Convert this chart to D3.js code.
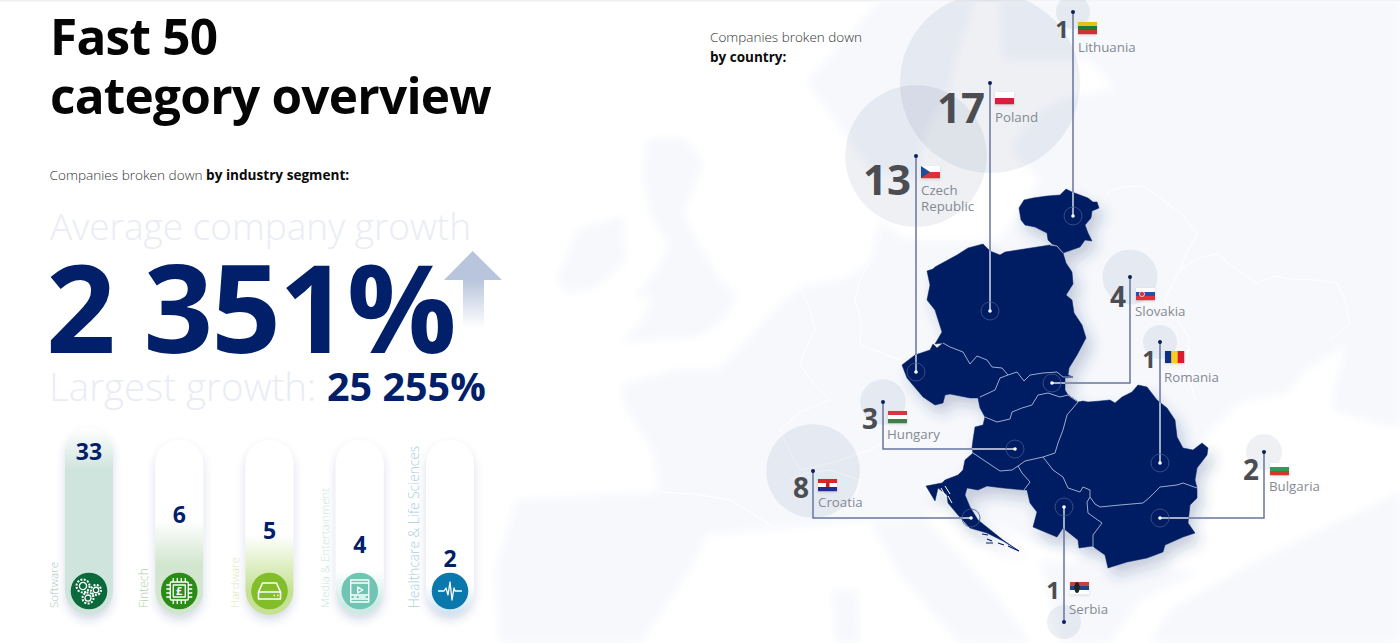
<!DOCTYPE html>
<html>
<head>
    <meta charset="UTF-8">
    <title>Fast 50 category overview</title>
    <style>
        html, body { margin: 0; padding: 0; background: #fff; overflow: hidden; }
        text { font-family: "Open Sans", sans-serif; }
        .light { font-weight: 300; }
        .bold { font-weight: 700; }
        .pale { fill: #e9ecf4; font-weight: 300; }
        .navy { fill: #02206a; font-weight: 700; }
        .pin-count { fill: #4b4d53; font-weight: 700; text-anchor: end; }
        .pin-name { fill: #858a92; font-size: 13.3px; font-weight: 400; }
        .border { fill: none; stroke: #aab6d4; stroke-width: .9; }
        .leader { fill: none; stroke: #67759d; stroke-width: 1.5; }
        .icon { fill: none; stroke: #fff; stroke-width: 1.3; stroke-linejoin: round; }
    </style>
    <script src="https://d3js.org/d3.v7.min.js"></script>
</head>
<body>
<div id="chart"></div>
<script>
    // industry segments
    const segments = ["Software", "Fintech", "Hardware", "Media & Entertainment", "Healthcare & Life Sciences"];
    const segmentCounts = [33, 6, 5, 4, 2];
    const segmentColors = ["#0b6a3c", "#2a8c16", "#82bd2a", "#6fc5b2", "#0a78ac"];
    const segmentTints = ["#cfe4dc", "#d2e6cf", "#c6e196", "#cdeae5", "#d3e5f3"];
    const segmentLabelColors = ["#a9c4b8", "#b5d2ad", "#dbe9ba", "#c6e6df", "#a9cfe0"];
    const segmentLabelSizes = [11.7, 12.2, 11.5, 11.5, 13.7];

    // countries
    const countries = ["Lithuania", "Poland", "Czech Republic", "Slovakia", "Romania", "Hungary", "Croatia", "Serbia", "Bulgaria"];
    const countryCounts = [1, 17, 13, 4, 1, 3, 8, 1, 2];

    const headline = ["Fast 50", "category overview"];
    const averageGrowth = "2 351%";
    const largestGrowth = "25 255%";

    const polandCzech = [[943,343],[950,347],[963,352],[970,364],[977,356],[987,360],[992,367],[1002,368],[1008,375]];
    const polandSlovakia = [[1008,375],[1017,372],[1024,381],[1030,375],[1043,373],[1057,372],[1063,377],[1073,377]];
    const czechSlovakia = [[1008,375],[1000,378],[995,390],[980,397]];
    const slovakiaHungary = [[985,417],[997,422],[1010,419],[1012,412],[1022,408],[1032,405],[1038,395],[1048,393],[1060,397],[1068,395]];
    const hungaryRomania = [[1068,395],[1078,402],[1067,415],[1063,430],[1058,443],[1055,453],[1043,457]];
    const hungaryCroatia = [[973,453],[988,463],[1000,471],[1012,470],[1018,466]];
    const hungarySerbia = [[1018,466],[1025,461],[1043,457]];
    const croatiaSerbia = [[1018,466],[1022,473],[1030,482],[1024,490]];
    const serbiaRomania = [[1043,457],[1053,470],[1063,477],[1068,488],[1080,492],[1083,487],[1090,490],[1090,497]];
    const romaniaBulgaria = [[1090,497],[1095,504],[1100,507],[1120,505],[1143,503],[1150,497],[1160,487],[1177,485],[1183,483],[1197,488]];
    const serbiaBulgaria = [[1090,497],[1087,502],[1088,513],[1102,523],[1093,535],[1093,546]];
    const polandLithuania = [[1050,245],[1057,246],[1063,253]];

    const rev = a => a.slice().reverse();

    const countryShapes = {
        "Lithuania": [[1019,208],[1024,200],[1033,198],[1047,196],[1060,195],[1066,189],[1072,192],[1080,195],[1088,198],[1093,202],[1097,202],[1099,208],[1092,211],[1091,218],[1085,225],[1088,233],[1092,241],[1085,240],[1080,247],[1063,253],[1057,246],[1052,244],[1048,240],[1047,233],[1035,227],[1025,225],[1021,220]],
        "Poland": [...polandCzech, ...polandSlovakia, [1068,375],[1069,368],[1077,355],[1086,338],[1082,325],[1074,313],[1072,300],[1066,295],[1073,284],[1072,272],[1066,263],[1063,253],[1057,246],[1050,245],[1005,252],[1000,255],[990,251],[983,244],[968,248],[957,255],[935,267],[933,269],[927,271],[930,285],[927,300],[935,310],[942,332],[935,344]],
        "Czech Republic": [...polandCzech, ...czechSlovakia, [978,398],[970,398],[950,394],[945,395],[943,403],[935,405],[923,397],[907,378],[902,365],[915,355],[930,350],[933,344],[937,348]],
        "Slovakia": [...rev(czechSlovakia), ...polandSlovakia, [1065,378],[1065,390], ...rev(slovakiaHungary), [980,408],[978,398]],
        "Hungary": [...slovakiaHungary, ...hungaryRomania, ...rev(hungarySerbia), ...rev(hungaryCroatia), [972,448],[973,440],[975,427],[983,425]],
        "Croatia": [...hungaryCroatia, ...croatiaSerbia, [1003,488],[987,486],[978,490],[967,488],[965,495],[970,507],[978,520],[1003,540],[1019,551],[1003,541],[987,533],[970,528],[958,515],[948,503],[947,495],[938,488],[935,501],[926,486],[942,483],[945,480],[958,475],[963,470],[965,460]],
        "Serbia": [...hungarySerbia, ...serbiaRomania, ...serbiaBulgaria, [1079,548],[1078,540],[1063,528],[1057,537],[1033,527],[1037,512],[1030,503],[1027,490], ...rev(croatiaSerbia)],
        "Romania": [...hungaryRomania.slice().reverse().reverse(), [1083,401],[1088,402],[1100,401],[1110,400],[1115,403],[1122,397],[1132,392],[1138,385],[1147,387],[1157,400],[1167,408],[1175,420],[1177,437],[1183,448],[1193,450],[1202,443],[1208,448],[1207,455],[1197,468],[1195,480],[1197,488], ...rev(romaniaBulgaria), ...rev(serbiaRomania)],
        "Bulgaria": [...romaniaBulgaria, [1197,498],[1190,505],[1188,523],[1195,533],[1183,537],[1165,545],[1163,552],[1147,558],[1127,562],[1108,568],[1105,555],[1095,548], ...rev(serbiaBulgaria)]
    };
    // Romania runs along Hungary from the north, so that edge goes in reverse order
    countryShapes["Romania"] = [[1068,395],[1078,402],[1083,401],[1088,402],[1100,401],[1110,400],[1115,403],[1122,397],[1132,392],[1138,385],[1147,387],[1157,400],[1167,408],[1175,420],[1177,437],[1183,448],[1193,450],[1202,443],[1208,448],[1207,455],[1197,468],[1195,480],[1197,488], ...rev(romaniaBulgaria), ...rev(serbiaRomania), ...rev(hungaryRomania)];

    const croatiaIslets = [[[982,534],[988,535]],[[987,539],[992,541]],[[986,543],[993,543]],[[998,543],[1004,545]],[[1008,546],[1019,551]]];
    const croatiaGaps = [[[941,488],[946,497]],[[945,486],[950,494]],[[948,496],[952,503]]];

    // faint map of Europe behind everything
    const landShapes = [
        [[557,279],[577,230],[623,217],[625,262],[597,287],[567,293]],
        [[647,139],[687,139],[703,164],[683,213],[700,246],[720,279],[737,295],[727,316],[700,336],[620,342],[643,320],[653,295],[633,299],[657,270],[670,246],[650,213],[643,176]],
        [[807,82],[880,0],[975,0],[955,60],[950,90],[925,130],[915,180],[870,170],[835,120]],
        [[620,385],[680,369],[720,369],[747,340],[773,311],[800,287],[847,279],[870,262],[880,220],[905,240],[1000,240],[1040,180],[1010,150],[1030,120],[1060,100],[1115,88],[1090,60],[1003,60],[1000,0],[1400,0],[1400,426],[1387,426],[1333,410],[1333,393],[1347,344],[1307,369],[1287,393],[1240,402],[1207,434],[1190,500],[1190,535],[1120,575],[1100,560],[1030,540],[990,520],[950,500],[925,480],[930,520],[925,520],[870,520],[813,525],[773,529],[707,535],[690,570],[640,643],[500,643],[495,570],[517,500],[660,492],[653,451],[627,410]],
        [[870,522],[925,520],[945,540],[1000,600],[1030,643],[960,643],[900,575]],
        [[832,590],[858,590],[860,643],[836,643]],
        [[1040,560],[1200,572],[1140,600],[1110,643],[1060,643]],
        [[1170,610],[1240,570],[1300,540],[1400,492],[1400,643],[1150,643]]
    ];
    const landBorders = [
        [[1107,193],[1122,187],[1143,186],[1160,198],[1182,214],[1197,234],[1188,250],[1180,270],[1198,258],[1217,254],[1235,268],[1257,283],[1275,276],[1290,279],[1315,280],[1337,283],[1345,300],[1350,324],[1330,340]],
        [[1180,270],[1172,285],[1165,300],[1178,320],[1190,340],[1186,365],[1195,400]],
        [[800,287],[810,310],[815,330],[805,350],[800,365],[815,385],[830,400],[800,412],[780,430],[790,452],[800,470],[835,462],[870,450],[905,430]],
        [[870,262],[860,280],[855,300],[862,325],[860,345],[880,352],[900,360]],
        [[660,492],[695,494],[730,500],[755,515],[775,528]],
        [[790,480],[810,472],[830,470],[848,476],[860,480],[856,495],[850,510]]
    ];

    // pin layout: top dot, target on the map, elbow, text placement
    const pinAnchor = [[1073,12],[990,83],[916,156],[1130,277],[1160,342],[883,402],[813,471],[1064,622],[1264,452]];
    const pinTarget = [[1073,216],[990,311],[916,372],[1052,383],[1160,463],[1015,449],[971,518],[1064,507],[1160,518]];
    const countX = [1069,985,911,1126,1156,878,809,1060,1259];
    const countY = [38,123,195,307,368,429,498,599,480];
    const flagX = [1078,995,921,1136,1165,888,818,1070,1270];
    const flagY = [22,92,166,288,351,411,479,582,463];
    const nameX = [1078,995,921,1135,1164,887,818,1069,1269];
    const nameY = [52,122,195,316,382,439,507,614,491];

    // flag stripes, top to bottom (Romania left to right)
    const flagStripes = [
        ["#f2bb1e", "#1d7a3c", "#c9323a"],
        ["#ffffff", "#dc1e3c"],
        ["#ffffff", "#d9303a"],
        ["#ffffff", "#2a4fa8", "#e0303a"],
        ["#0d2f86", "#f7cf1a", "#d81e30"],
        ["#d2373c", "#ffffff", "#3f7d4a"],
        ["#e0232e", "#ffffff", "#23299a"],
        ["#c8423c", "#24408c", "#ffffff"],
        ["#ffffff", "#2f9a5c", "#d9362c"]
    ];

    const width = 1400, height = 643;
    const svg = d3.select("#chart").append("svg")
        .attr("width", width).attr("height", height)
        .style("display", "block");
    const defs = svg.append("defs");

    const shadow = defs.append("filter").attr("id", "mapShadow")
        .attr("x", "-20%").attr("y", "-20%").attr("width", "140%").attr("height", "140%");
    shadow.append("feDropShadow").attr("dx", 6).attr("dy", 9).attr("stdDeviation", 7)
        .attr("flood-color", "#233a78").attr("flood-opacity", .24);

    const pillShadow = defs.append("filter").attr("id", "pillShadow")
        .attr("x", "-40%").attr("y", "-20%").attr("width", "180%").attr("height", "140%");
    pillShadow.append("feDropShadow").attr("dx", 0).attr("dy", 5).attr("stdDeviation", 4)
        .attr("flood-color", "#34508f").attr("flood-opacity", .2);

    const flagShadow = defs.append("filter").attr("id", "flagShadow")
        .attr("x", "-20%").attr("y", "-30%").attr("width", "140%").attr("height", "170%");
    flagShadow.append("feDropShadow").attr("dx", 0).attr("dy", 1).attr("stdDeviation", 1.2)
        .attr("flood-color", "#333").attr("flood-opacity", .2);

    defs.append("filter").attr("id", "soft").attr("x", "-5%").attr("y", "-5%").attr("width", "110%").attr("height", "110%")
        .append("feGaussianBlur").attr("stdDeviation", 4);
    defs.append("filter").attr("id", "softLine")
        .append("feGaussianBlur").attr("stdDeviation", .5);

    // map projection: outlines were traced in screen units
    const path = d3.geoPath(d3.geoIdentity());
    const ring = pts => ({type: "Polygon", coordinates: [[...pts, pts[0]]]});
    const lineGeo = pts => ({type: "LineString", coordinates: pts});
    const multi = lines => ({type: "MultiLineString", coordinates: lines});

    // top hairline
    svg.append("rect").attr("width", width).attr("height", 1.5).attr("fill", "#eeeff2");

    // background map
    const bg = svg.append("g");
    bg.selectAll("path.land").data(landShapes).join("path")
        .attr("class", "land")
        .attr("d", d => path(ring(d)))
        .attr("fill", "#f6f8fc")
        .attr("filter", "url(#soft)");
    bg.append("path").attr("d", path(multi(landBorders)))
        .attr("fill", "none").attr("stroke", "#fff").attr("stroke-width", 1)
        .attr("filter", "url(#softLine)");

    // bubbles, size from company count
    const bubbleR = d3.scaleLinear().domain([1, 2, 17]).range([17, 18, 90]);
    svg.append("g").selectAll("circle").data(countries).join("circle")
        .attr("cx", (d, i) => pinAnchor[i][0])
        .attr("cy", (d, i) => pinAnchor[i][1])
        .attr("r", (d, i) => bubbleR(countryCounts[i]))
        .attr("fill", "#1c3266").attr("fill-opacity", .075);

    // country shapes
    const shapes = countries.map(c => countryShapes[c]);
    svg.append("g").attr("filter", "url(#mapShadow)")
        .selectAll("path").data(shapes).join("path")
        .attr("d", d => path(ring(d)))
        .attr("fill", "#011f63")
        .attr("stroke", "#011f63").attr("stroke-width", .5);
    svg.append("path").attr("d", path(multi(croatiaIslets)))
        .attr("fill", "none").attr("stroke", "#011f63").attr("stroke-width", 1.2);
    svg.append("path").attr("d", path(multi(croatiaGaps)))
        .attr("fill", "none").attr("stroke", "#fff").attr("stroke-width", 1);
    svg.append("path").attr("class", "border")
        .attr("d", path(multi([polandCzech, polandSlovakia, czechSlovakia, slovakiaHungary, hungaryRomania,
            hungaryCroatia, hungarySerbia, croatiaSerbia, serbiaRomania, romaniaBulgaria, serbiaBulgaria, polandLithuania])));

    // leader lines; lighter where they run over the map
    const clip = defs.append("clipPath").attr("id", "mapClip");
    clip.selectAll("path").data(shapes).join("path").attr("d", d => path(ring(d)));

    const leaderPts = countries.map((c, i) => {
        const a = pinAnchor[i], t = pinTarget[i];
        return a[0] === t[0] ? [a, t] : [a, [a[0], t[1]], t];
    });
    svg.append("g").selectAll("path").data(leaderPts).join("path")
        .attr("class", "leader").attr("d", d => path(lineGeo(d)));
    svg.append("g").attr("clip-path", "url(#mapClip)")
        .selectAll("path").data(leaderPts).join("path")
        .attr("fill", "none").attr("stroke", "#c3cce2").attr("stroke-width", 1.4)
        .attr("d", d => path(lineGeo(d)));

    const pins = svg.append("g").selectAll("g").data(countries).join("g");
    pins.append("circle")
        .attr("cx", (d, i) => pinTarget[i][0]).attr("cy", (d, i) => pinTarget[i][1])
        .attr("r", 9).attr("fill", "none").attr("stroke", "#46578c").attr("stroke-width", .8);
    pins.append("circle")
        .attr("cx", (d, i) => pinTarget[i][0]).attr("cy", (d, i) => pinTarget[i][1])
        .attr("r", 1.8).attr("fill", "#fff");
    pins.append("circle")
        .attr("cx", (d, i) => pinAnchor[i][0]).attr("cy", (d, i) => pinAnchor[i][1])
        .attr("r", 2).attr("fill", "#0b1f5c");

    // counts and names
    const countSize = d3.scaleThreshold().domain([2, 13]).range([24, 28, 42]);
    pins.append("text").attr("class", "pin-count")
        .attr("x", (d, i) => countX[i]).attr("y", (d, i) => countY[i])
        .style("font-size", (d, i) => countSize(countryCounts[i]) + "px")
        .text((d, i) => countryCounts[i]);

    pins.append("text").attr("class", "pin-name")
        .attr("y", (d, i) => nameY[i])
        .each(function(d, i) {
            const words = d === "Czech Republic" ? d.split(" ") : [d];
            d3.select(this).selectAll("tspan").data(words).join("tspan")
                .attr("x", nameX[i])
                .attr("dy", (w, j) => j ? 16 : 0)
                .text(w => w);
        });

    // flags
    const flagW = 19, flagH = 12;
    pins.each(function(d, i) {
        const g = d3.select(this).append("g")
            .attr("transform", `translate(${flagX[i]},${flagY[i]})`)
            .attr("filter", "url(#flagShadow)");
        const stripes = flagStripes[i];
        const upright = d === "Romania";
        g.selectAll("rect").data(stripes).join("rect")
            .attr("x", (c, j) => upright ? j * flagW / stripes.length : 0)
            .attr("y", (c, j) => upright ? 0 : j * flagH / stripes.length)
            .attr("width", upright ? flagW / stripes.length + .2 : flagW)
            .attr("height", upright ? flagH : flagH / stripes.length + .2)
            .attr("fill", c => c);
        if (d === "Czech Republic") {
            g.append("path").attr("d", `M0,0L9,${flagH / 2}L0,${flagH}Z`).attr("fill", "#1f4e96");
        }
        if (d === "Slovakia") {
            g.append("circle").attr("cx", 6).attr("cy", 6).attr("r", 2.6)
                .attr("fill", "#d9303a").attr("stroke", "#fff").attr("stroke-width", .7);
        }
        if (d === "Croatia") {
            g.append("rect").attr("x", 8).attr("y", 3).attr("width", 3.5).attr("height", 5).attr("fill", "#c8202c");
        }
        if (d === "Serbia") {
            g.append("ellipse").attr("cx", 7).attr("cy", 5.5).attr("rx", 2.6).attr("ry", 5.5).attr("fill", "#26211f");
        }
    });

    // headline
    svg.selectAll("text.head").data(headline).join("text")
        .attr("class", "head bold")
        .attr("x", 50).attr("y", (d, i) => i ? 114 : 55)
        .attr("fill", "#050505").style("font-size", "49.5px").style("letter-spacing", "-.75px")
        .text(d => d);

    const sub = svg.append("text").attr("x", 49.5).attr("y", 180).style("font-size", "13.6px").attr("fill", "#333");
    sub.append("tspan").attr("class", "light").text("Companies broken down ");
    sub.append("tspan").attr("class", "bold").attr("fill", "#0a0a0a").text("by industry segment:");

    const subRight = svg.append("text").attr("y", 42).style("font-size", "13.5px");
    subRight.append("tspan").attr("class", "light").attr("x", 710).attr("fill", "#333").text("Companies broken down");
    subRight.append("tspan").attr("class", "bold").attr("x", 710).attr("dy", 20).attr("fill", "#0a0a0a").text("by country:");

    // growth block
    const arrowFill = defs.append("linearGradient").attr("id", "arrowFill")
        .attr("gradientUnits", "userSpaceOnUse")
        .attr("x1", 0).attr("x2", 0).attr("y1", 280).attr("y2", 328);
    arrowFill.append("stop").attr("offset", 0).attr("stop-color", "#b8c5dc");
    arrowFill.append("stop").attr("offset", 1).attr("stop-color", "#fff");
    svg.append("path").attr("fill", "url(#arrowFill)")
        .attr("d", d3.line()([[472.7,251],[502,280],[484,280],[484,328],[463,328],[463,280],[444,280]]) + "Z");

    svg.append("text").attr("class", "pale").attr("x", 50).attr("y", 240)
        .style("font-size", "37px").text("Average company growth");
    svg.append("text").attr("class", "navy").attr("x", 46).attr("y", 353)
        .style("font-size", "122px").style("letter-spacing", "-2px").text(averageGrowth);
    svg.append("text").attr("class", "pale").attr("x", 49).attr("y", 401)
        .style("font-size", "38.5px").text("Largest growth:");
    svg.append("text").attr("class", "navy").attr("x", 327).attr("y", 401)
        .style("font-size", "39.5px").text(largestGrowth);

    // segment pills
    const pillX = d3.scalePoint().domain(segments).range([89, 450]);
    const pillW = 48, pillBottom = 615;
    const numberY = d3.scaleLinear().domain([2, 4, 5, 6, 33]).range([567, 553, 539, 523, 460]);
    const fadeTop = d3.scaleLinear().domain([2, 4, 5, 6, 33]).range([585, 570, 535, 520, 428]);
    const fadeFull = d3.scaleLinear().domain([2, 4, 5, 6, 33]).range([612, 605, 590, 565, 470]);

    segments.forEach((s, i) => {
        const v = segmentCounts[i];
        const g = defs.append("linearGradient").attr("id", "pill" + i)
            .attr("gradientUnits", "userSpaceOnUse")
            .attr("x1", 0).attr("x2", 0).attr("y1", fadeTop(v)).attr("y2", fadeFull(v));
        g.append("stop").attr("offset", 0).attr("stop-color", "#fff");
        g.append("stop").attr("offset", 1).attr("stop-color", segmentTints[i]);
    });

    const pill = svg.append("g").selectAll("g").data(segments).join("g")
        .attr("transform", d => `translate(${pillX(d)},0)`);
    pill.append("rect")
        .attr("x", -pillW / 2).attr("width", pillW)
        .attr("y", (d, i) => i ? 440 : 428)
        .attr("height", (d, i) => pillBottom - (i ? 440 : 428))
        .attr("rx", 24).attr("fill", (d, i) => `url(#pill${i})`)
        .attr("filter", "url(#pillShadow)");
    pill.append("circle").attr("cy", 591).attr("r", 18.3).attr("fill", (d, i) => segmentColors[i]);
    pill.append("text").attr("class", "navy").attr("text-anchor", "middle")
        .attr("y", (d, i) => numberY(segmentCounts[i]))
        .style("font-size", "23px")
        .text((d, i) => segmentCounts[i]);
    pill.append("text").attr("class", "light")
        .attr("transform", "translate(-31,608) rotate(-90)")
        .style("font-size", (d, i) => segmentLabelSizes[i] + "px")
        .attr("fill", (d, i) => segmentLabelColors[i])
        .text(d => d);

    // icons
    const icons = pill.append("g").attr("class", "icon").attr("transform", "translate(0,591)");
    const gears = d3.select(icons.nodes()[0]);
    [[-6,-5,6.5],[7,-1,5],[-1,7,5.5]].forEach(c => {
        gears.append("circle").attr("cx", c[0]).attr("cy", c[1]).attr("r", c[2] * .55);
        gears.append("circle").attr("cx", c[0]).attr("cy", c[1]).attr("r", c[2])
            .attr("stroke-dasharray", "2 1.4").attr("stroke-width", 2);
    });
    const chip = d3.select(icons.nodes()[1]);
    chip.append("rect").attr("x", -9).attr("y", -9).attr("width", 18).attr("height", 18).attr("rx", 1);
    chip.append("rect").attr("x", -6).attr("y", -6).attr("width", 12).attr("height", 12);
    chip.append("path").attr("d", "M-6,-13V-9M-2,-13V-9M2,-13V-9M6,-13V-9M-6,9V13M-2,9V13M2,9V13M6,9V13M-13,-6H-9M-13,-2H-9M-13,2H-9M-13,6H-9M9,-6H13M9,-2H13M9,2H13M9,6H13");
    chip.append("text").attr("text-anchor", "middle").attr("y", 4).style("font-size", "11px").style("font-weight", 700)
        .attr("fill", "#fff").attr("stroke", "none").text("£");
    const drive = d3.select(icons.nodes()[2]);
    drive.append("path").attr("d", "M-11,1L-7,-8H7L11,1V8H-11ZM-11,1H11").attr("stroke-width", 1.6);
    drive.append("path").attr("d", "M4,4.5H5.5M7.5,4.5H9").attr("stroke-width", 1.6);
    const media = d3.select(icons.nodes()[3]);
    media.append("rect").attr("x", -9).attr("y", -11).attr("width", 18).attr("height", 22);
    media.append("path").attr("d", "M-9,-8H9M-9,4H9M-9,8H9M-6,6H-3M-1,6H6M-2,-4L3,-1L-2,2Z");
    const pulse = d3.select(icons.nodes()[4]);
    pulse.append("path").attr("d", "M-12,0H-6L-4,-3L-2,4L0,-9L2,9L4,-3L5,0H12").attr("stroke-width", 1.3);
</script>
</body>
</html>
